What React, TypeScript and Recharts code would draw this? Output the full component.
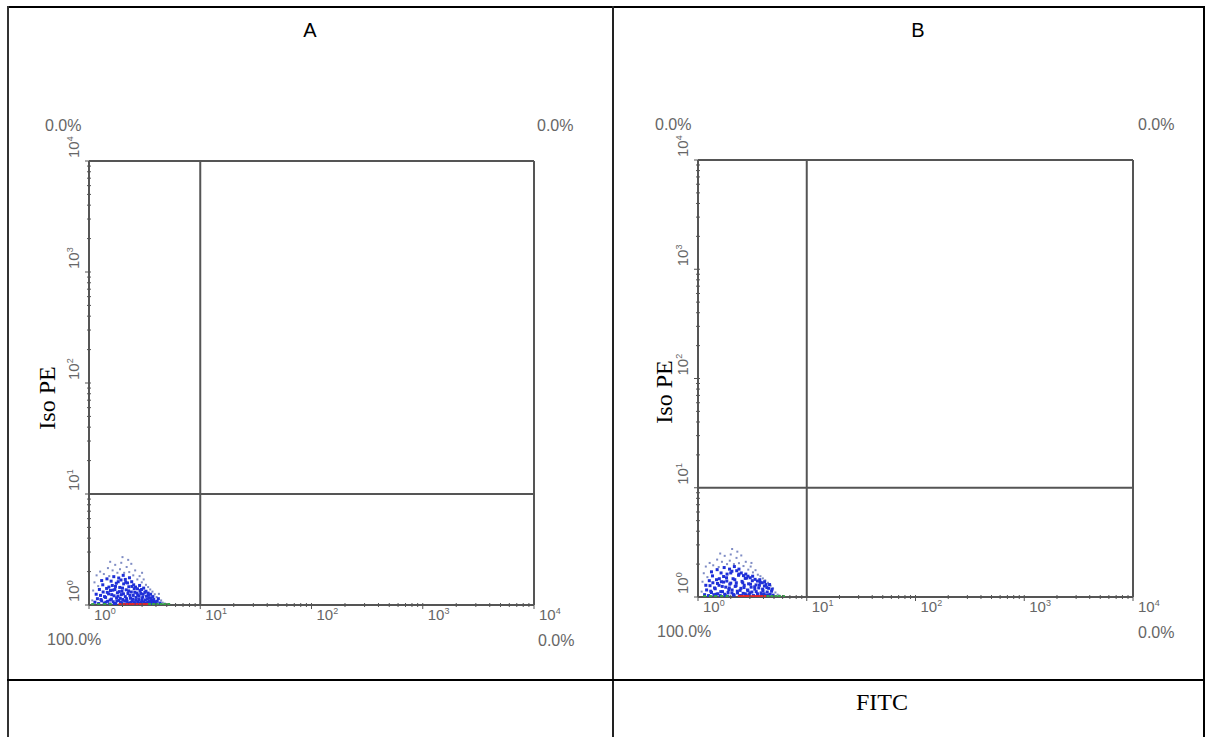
import React from "react";
import { ScatterChart, Scatter, XAxis, YAxis, ReferenceLine } from "recharts";

// ---- axis ticks ----
const MAJOR_TICKS = [1, 10, 100, 1000, 10000];
const EXPONENTS = ["0", "1", "2", "3", "4"];
const MINOR_TICKS = [2, 3, 4, 5, 6, 7, 8, 9, 20, 30, 40, 50, 60, 70, 80, 90, 200, 300, 400, 500, 600, 700, 800, 900, 2000, 3000, 4000, 5000, 6000, 7000, 8000, 9000];
const QUADRANT_GATE = 10;
const PANEL_TITLES = ["A", "B"];

// ---- panel A events (FITC, Iso PE) ----
const A_BLUE: number[][] = [
  [1.13,1.06],[1.19,1.14],[1.22,1.03],[1.27,1.22],[1.3,1.09],[1.34,1.31],[1.37,1.04],[1.41,1.17],[1.44,1.41],[1.47,1.08],[1.5,1.26],[1.53,1.02],[1.56,1.35],[1.59,1.13],[1.62,1.5],[1.65,1.07],[1.68,1.21],[1.71,1.38],[1.74,1.03],[1.77,1.16],[1.8,1.29],[1.83,1.62],[1.86,1.1],[1.89,1.44],[1.92,1.05],[1.95,1.24],[1.98,1.33],[2.01,1.12],[2.05,1.55],[2.08,1.02],[2.12,1.19],[2.16,1.37],[2.2,1.08],[2.24,1.27],[2.28,1.46],[2.32,1.04],[2.36,1.15],[2.4,1.31],[2.45,1.09],[2.5,1.22],[2.55,1.4],[2.6,1.03],[2.65,1.17],[2.7,1.28],[2.76,1.07],[2.82,1.2],[2.88,1.35],[2.94,1.05],[3.0,1.14],[3.07,1.25],[3.14,1.03],[3.21,1.11],[3.29,1.2],[3.37,1.06],[3.46,1.15],[3.55,1.04],[3.65,1.1],[3.76,1.03],[3.88,1.07],[4.0,1.02],
  [1.16,1.25],[1.24,1.38],[1.28,1.12],[1.33,1.52],[1.38,1.19],[1.42,1.06],[1.46,1.3],[1.51,1.45],[1.55,1.11],[1.6,1.24],[1.64,1.36],[1.69,1.03],[1.73,1.47],[1.78,1.09],[1.82,1.2],[1.87,1.32],[1.91,1.15],[1.96,1.05],[2.0,1.42],[2.04,1.26],[2.09,1.09],[2.14,1.6],[2.18,1.14],[2.23,1.03],[2.27,1.34],[2.33,1.22],[2.38,1.06],[2.43,1.47],[2.48,1.13],[2.53,1.05],[2.58,1.3],[2.63,1.1],[2.69,1.02],[2.74,1.23],[2.8,1.12],[2.86,1.04],[2.92,1.27],[2.98,1.09],[3.04,1.18],[3.11,1.07],[3.18,1.3],[3.26,1.04],[3.34,1.13],[3.42,1.22],[3.5,1.08],[3.6,1.16],[3.7,1.06],[3.82,1.12],[3.95,1.05],[4.1,1.08],
  [1.3,1.66],[1.45,1.72],[1.58,1.64],[1.67,1.8],[1.76,1.57],[1.85,1.75],[1.94,1.68],[2.03,1.85],[2.12,1.7],[2.22,1.58],[2.31,1.76],[2.42,1.62],[2.52,1.52],[2.62,1.45],[2.73,1.4],[2.85,1.5],[2.97,1.38],[3.1,1.42],[3.25,1.33],[3.4,1.28],[3.58,1.25],[3.75,1.19],[4.2,1.14],[4.35,1.04],
];
const A_LIGHT: number[][] = [
  [1.07,1.1],[1.09,1.35],[1.12,1.6],[1.17,1.85],[1.21,1.48],[1.26,2.0],[1.36,1.9],[1.48,2.15],[1.52,1.82],[1.63,2.05],[1.72,2.3],[1.8,1.95],[1.9,2.1],[2.0,2.7],[2.07,1.95],[2.18,2.2],[2.3,1.98],[2.4,2.35],[2.5,1.85],[2.6,2.05],[2.72,1.7],[2.85,1.82],[2.98,1.6],[3.1,1.7],[3.25,1.52],[3.4,1.45],[3.55,1.38],[3.72,1.32],[3.9,1.25],[4.05,1.18],[4.25,1.26],[4.45,1.1],[4.6,1.05],[4.8,1.03],[1.55,2.45],[2.25,2.55],[1.95,2.4],[3.0,1.95],
];
const A_RED: number[][] = [[1.9,1.02],[2.05,1.02],[2.2,1.02],[2.35,1.02],[2.5,1.02],[2.7,1.02],[2.9,1.02],[3.1,1.02],[3.3,1.02]];
const A_GREEN: number[][] = [[1.08,1.02],[1.22,1.02],[1.38,1.02],[1.55,1.02],[3.5,1.02],[3.8,1.02],[4.1,1.02],[4.45,1.02],[4.8,1.02],[5.2,1.02]];

// ---- panel B events ----
const B_BLUE: number[][] = [
  [1.15,1.05],[1.2,1.16],[1.25,1.03],[1.29,1.27],[1.33,1.1],[1.37,1.35],[1.4,1.05],[1.44,1.19],[1.48,1.44],[1.52,1.07],[1.56,1.28],[1.6,1.03],[1.64,1.38],[1.68,1.12],[1.72,1.54],[1.76,1.06],[1.8,1.23],[1.84,1.4],[1.88,1.02],[1.92,1.17],[1.96,1.31],[2.0,1.66],[2.05,1.09],[2.1,1.47],[2.15,1.04],[2.2,1.25],[2.25,1.35],[2.3,1.13],[2.36,1.58],[2.42,1.03],[2.48,1.2],[2.54,1.39],[2.6,1.08],[2.66,1.28],[2.72,1.48],[2.78,1.04],[2.85,1.16],[2.92,1.32],[3.0,1.09],[3.08,1.23],[3.16,1.41],[3.24,1.03],[3.33,1.18],[3.42,1.29],[3.52,1.07],[3.62,1.21],[3.73,1.36],[3.84,1.05],[3.96,1.14],[4.08,1.26],[4.2,1.03],[4.33,1.11],[4.47,1.2],[4.6,1.06],[4.75,1.13],[4.9,1.04],
  [1.18,1.28],[1.27,1.41],[1.31,1.13],[1.36,1.56],[1.42,1.21],[1.47,1.06],[1.51,1.33],[1.57,1.47],[1.62,1.12],[1.67,1.25],[1.72,1.37],[1.78,1.03],[1.83,1.5],[1.89,1.1],[1.94,1.21],[2.0,1.34],[2.06,1.16],[2.12,1.05],[2.18,1.44],[2.24,1.27],[2.31,1.09],[2.38,1.62],[2.44,1.15],[2.51,1.03],[2.58,1.35],[2.65,1.22],[2.72,1.07],[2.8,1.49],[2.88,1.14],[2.96,1.05],[3.04,1.31],[3.13,1.11],[3.22,1.02],[3.32,1.24],[3.43,1.12],[3.55,1.04],[3.67,1.28],[3.8,1.09],[3.93,1.18],[4.06,1.07],[4.22,1.3],[4.4,1.04],
  [1.33,1.7],[1.5,1.78],[1.63,1.66],[1.74,1.86],[1.85,1.62],[1.95,1.8],[2.05,1.72],[2.16,1.9],[2.27,1.74],[2.38,1.8],[2.5,1.66],[2.62,1.57],[2.75,1.62],[2.88,1.55],[3.02,1.5],[3.18,1.55],[3.35,1.45],[3.52,1.4],[3.7,1.44],[3.9,1.35],[4.1,1.38],[4.3,1.22],[4.55,1.3],[4.8,1.18],
];
const B_LIGHT: number[][] = [
  [1.08,1.12],[1.1,1.38],[1.13,1.65],[1.18,1.9],[1.22,1.52],[1.28,2.05],[1.38,1.95],[1.5,2.2],[1.55,1.88],[1.66,2.1],[1.76,2.38],[1.85,2.0],[1.96,2.15],[2.06,2.75],[2.14,2.0],[2.26,2.28],[2.38,2.04],[2.5,2.4],[2.62,1.92],[2.75,2.1],[2.9,1.78],[3.05,1.9],[3.2,1.68],[3.38,1.76],[3.55,1.6],[3.75,1.55],[3.95,1.48],[4.15,1.42],[4.4,1.35],[4.65,1.27],[4.9,1.2],[5.15,1.1],[5.4,1.05],[5.6,1.03],[1.6,2.5],[2.3,2.6],[2.0,2.45],[3.1,2.05],
];
const B_RED: number[][] = [[2.4,1.02],[2.55,1.02],[2.7,1.02],[2.85,1.02],[3.0,1.02],[3.2,1.02],[3.4,1.02],[3.6,1.02],[3.85,1.02],[4.1,1.02]];
const B_GREEN: number[][] = [[1.15,1.02],[1.3,1.02],[1.45,1.02],[1.65,1.02],[1.85,1.02],[4.4,1.02],[4.8,1.02],[5.2,1.02],[5.6,1.02],[6.1,1.02]];

// quadrant percentages: [UL, UR, LL, LR]
const A_PCT = ["0.0%", "0.0%", "100.0%", "0.0%"];
const B_PCT = ["0.0%", "0.0%", "100.0%", "0.0%"];

const toPts = (a: number[][]) => a.map(([x, y]) => ({ x, y }));
const ALL_TICKS = [...MAJOR_TICKS, ...MINOR_TICKS].sort((a, b) => a - b);

const AX = "#555";
const LBL = "#666";
const SANS = "'Liberation Sans', Arial, sans-serif";
const SERIF = "'Liberation Serif', 'Times New Roman', serif";

const dot = (color: string, w: number, h: number) => (p: any) =>
  <rect x={p.cx - w / 2} y={p.cy - h / 2} width={w} height={h} fill={color} />;

const XTick = (p: any) => {
  const i = MAJOR_TICKS.indexOf(p.payload.value);
  const major = i >= 0;
  return (
    <g>
      <line x1={p.x} x2={p.x} y1={p.y - 2} y2={p.y + (major ? 4 : 2)} stroke={AX} strokeWidth={1} />
      {major && (
        <text x={p.x + 5} y={p.y + 15} fontSize={15} fill={LBL} fontFamily={SANS}>
          10<tspan dy={-6} fontSize={9}>{EXPONENTS[i]}</tspan>
        </text>
      )}
    </g>
  );
};

const YTick = (p: any) => {
  const i = MAJOR_TICKS.indexOf(p.payload.value);
  const major = i >= 0;
  const tx = p.x - 10;
  const ty = p.y - 3;
  return (
    <g>
      <line x1={p.x - (major ? 4 : 2)} x2={p.x + 2} y1={p.y} y2={p.y} stroke={AX} strokeWidth={1} />
      {major && (
        <text x={tx} y={ty} transform={`rotate(-90, ${tx}, ${ty})`} fontSize={15} fill={LBL} fontFamily={SANS}>
          10<tspan dy={-6} fontSize={9}>{EXPONENTS[i]}</tspan>
        </text>
      )}
    </g>
  );
};

type Box = { l: number; r: number; t: number; b: number };

const Plot = ({ box, blue, light, red, green }: { box: Box; blue: number[][]; light: number[][]; red: number[][]; green: number[][] }) => {
  const yw = 60, mr = 60, mt = 40, xh = 50;
  const w = box.r - box.l + yw + mr;
  const h = box.b - box.t + mt + xh;
  return (
    <div style={{ position: "absolute", left: box.l - yw, top: box.t - mt, width: w, height: h }}>
      <ScatterChart width={w} height={h} margin={{ top: mt, right: mr, left: 0, bottom: 0 }}>
        <XAxis type="number" dataKey="x" scale="log" domain={[1, 10000]} ticks={ALL_TICKS} interval={0}
          allowDataOverflow height={xh} tickSize={0} tickMargin={0} tickLine={false} tick={<XTick />}
          axisLine={{ stroke: AX, strokeWidth: 2 }} />
        <YAxis type="number" dataKey="y" scale="log" domain={[1, 10000]} ticks={ALL_TICKS} interval={0}
          allowDataOverflow width={yw} tickSize={0} tickMargin={0} tickLine={false} tick={<YTick />}
          axisLine={{ stroke: AX, strokeWidth: 2 }} />
        <ReferenceLine x={QUADRANT_GATE} stroke={AX} strokeWidth={2} />
        <ReferenceLine y={QUADRANT_GATE} stroke={AX} strokeWidth={2} />
        <ReferenceLine x={10000} stroke={AX} strokeWidth={2} />
        <ReferenceLine y={10000} stroke={AX} strokeWidth={2} />
        <Scatter data={toPts(light)} isAnimationActive={false} shape={dot("#7f8cc4", 2, 2)} />
        <Scatter data={toPts(blue)} isAnimationActive={false} shape={dot("#1f30d8", 3, 3)} />
        <Scatter data={toPts(red)} isAnimationActive={false} shape={dot("#e02828", 3, 2)} />
        <Scatter data={toPts(green)} isAnimationActive={false} shape={dot("#34a244", 3, 2)} />
      </ScatterChart>
    </div>
  );
};

const BOX_A: Box = { l: 89, r: 534, t: 161, b: 605 };
const BOX_B: Box = { l: 698, r: 1133, t: 160, b: 597 };

export default function App() {
  return (
    <div style={{ position: "absolute", left: 0, top: 0, width: 1212, height: 737, background: "#fff", overflow: "hidden" }}>
      <svg width={1212} height={737} style={{ position: "absolute", left: 0, top: 0 }}>
        <rect x={7} y={6} width={1198} height={2} fill="#000" />
        <rect x={7} y={6} width={2} height={731} fill="#333" />
        <rect x={1203} y={6} width={2} height={731} fill="#000" />
        <rect x={612} y={6} width={2} height={731} fill="#222" />
        <rect x={7} y={679} width={1198} height={2} fill="#000" />
        <text x={310} y={37} textAnchor="middle" fontSize={20} fontFamily={SANS} fill="#000">{PANEL_TITLES[0]}</text>
        <text x={918} y={37} textAnchor="middle" fontSize={20} fontFamily={SANS} fill="#000">{PANEL_TITLES[1]}</text>
        <text x={882} y={710} textAnchor="middle" fontSize={24} fontFamily={SERIF} fill="#000">FITC</text>
        <text x={55} y={398} textAnchor="middle" fontSize={24} fontFamily={SERIF} fill="#000" transform="rotate(-90, 55, 398)">Iso PE</text>
        <text x={672} y={392} textAnchor="middle" fontSize={24} fontFamily={SERIF} fill="#000" transform="rotate(-90, 672, 392)">Iso PE</text>
        <g fontSize={16} fontFamily={SANS} fill={LBL}>
          <text x={45} y={131}>{A_PCT[0]}</text>
          <text x={537} y={131}>{A_PCT[1]}</text>
          <text x={47} y={645}>{A_PCT[2]}</text>
          <text x={538} y={646}>{A_PCT[3]}</text>
          <text x={655} y={130}>{B_PCT[0]}</text>
          <text x={1138} y={130}>{B_PCT[1]}</text>
          <text x={657} y={637}>{B_PCT[2]}</text>
          <text x={1138} y={638}>{B_PCT[3]}</text>
        </g>
      </svg>
      <Plot box={BOX_A} blue={A_BLUE} light={A_LIGHT} red={A_RED} green={A_GREEN} />
      <Plot box={BOX_B} blue={B_BLUE} light={B_LIGHT} red={B_RED} green={B_GREEN} />
    </div>
  );
}
